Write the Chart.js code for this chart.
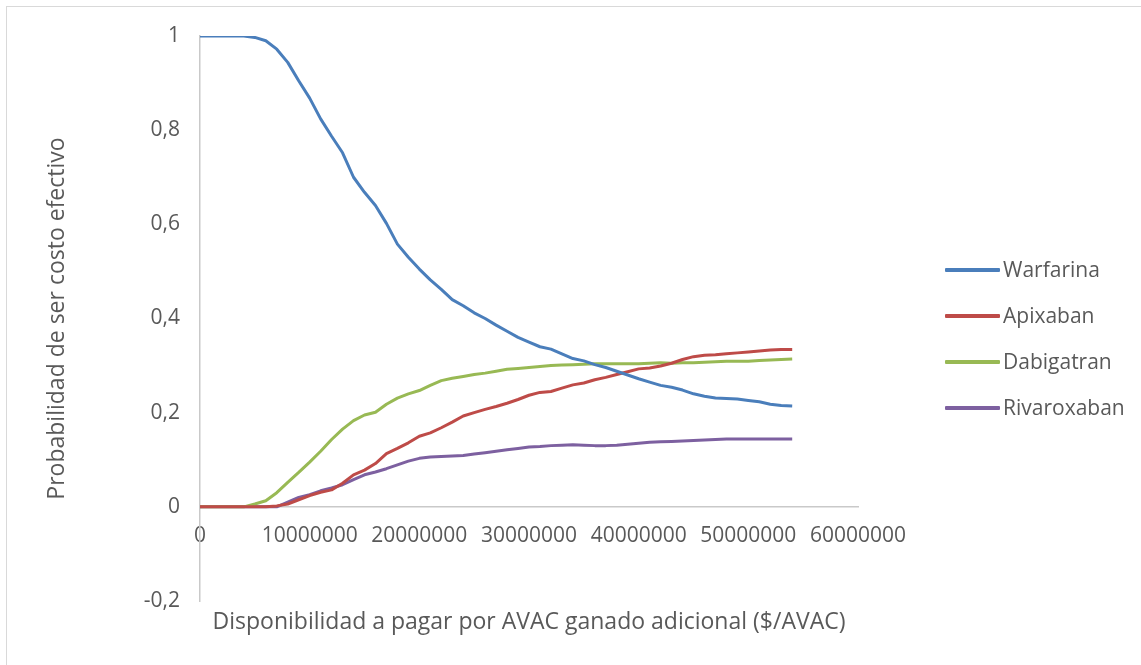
<!DOCTYPE html>
<html>
<head>
<meta charset="utf-8">
<script src="https://cdn.jsdelivr.net/npm/chart.js@4"></script>
<style>
  body { margin: 0; background: #fff; }
  #wrap { position: relative; width: 1141px; height: 665px; overflow: hidden; font-family: 'Open Sans', sans-serif; }
  #frame { position: absolute; left: 6px; top: 6px; right: -4px; bottom: -4px; border: 1px solid #d9d9d9; }
  #legend { position: absolute; left: 945px; top: 258px; }
  .item { position: relative; height: 46px; }
  .item .ln { position: absolute; left: 0; top: 10px; width: 55px; height: 4px; border-radius: 1px; }
  .item .tx { position: absolute; left: 58px; top: -3px; font-size: 21px; color: #595959; white-space: nowrap; }
</style>
</head>
<body>
<div id="wrap">
  <div id="frame"></div>
  <canvas id="c" width="1141" height="665"></canvas>
  <div id="legend"></div>
</div>
<script>
// disponibilidad a pagar ($/AVAC), paso de 1.000.000
const wtp = []
for (let i = 0; i <= 54; i++) wtp.push(i * 1000000)

const warfarina = [1, 1, 1, 1, 1, 0.997, 0.99, 0.972, 0.944, 0.905, 0.868, 0.824, 0.787, 0.752, 0.7,
  0.668, 0.64, 0.602, 0.558, 0.53, 0.505, 0.482, 0.462, 0.44, 0.427, 0.412, 0.4, 0.386, 0.373, 0.36,
  0.35, 0.34, 0.335, 0.325, 0.315, 0.31, 0.302, 0.296, 0.288, 0.28, 0.272, 0.265, 0.258, 0.254, 0.248,
  0.24, 0.235, 0.231, 0.23, 0.229, 0.226, 0.223, 0.218, 0.215, 0.214]
const apixaban = [0, 0, 0, 0, 0, 0, 0, 0.002, 0.006, 0.015, 0.024, 0.031, 0.036, 0.05, 0.068,
  0.078, 0.092, 0.113, 0.124, 0.136, 0.15, 0.157, 0.168, 0.18, 0.193, 0.2, 0.207, 0.213, 0.22, 0.228,
  0.237, 0.243, 0.245, 0.252, 0.259, 0.263, 0.27, 0.275, 0.281, 0.287, 0.293, 0.295, 0.299, 0.305, 0.313,
  0.319, 0.322, 0.323, 0.325, 0.327, 0.329, 0.331, 0.333, 0.334, 0.334]
const dabigatran = [0, 0, 0, 0, 0, 0.006, 0.013, 0.03, 0.052, 0.073, 0.095, 0.118, 0.143, 0.165, 0.183,
  0.195, 0.201, 0.218, 0.231, 0.24, 0.247, 0.258, 0.268, 0.273, 0.277, 0.281, 0.284, 0.288, 0.292, 0.294,
  0.296, 0.298, 0.3, 0.301, 0.302, 0.303, 0.304, 0.304, 0.304, 0.304, 0.304, 0.305, 0.306, 0.305, 0.306,
  0.306, 0.307, 0.308, 0.309, 0.309, 0.309, 0.311, 0.312, 0.313, 0.314]
const rivaroxaban = [0, 0, 0, 0, 0, 0, 0, 0, 0.01, 0.02, 0.026, 0.034, 0.04, 0.047, 0.058,
  0.068, 0.074, 0.081, 0.089, 0.097, 0.103, 0.106, 0.107, 0.108, 0.109, 0.112, 0.115, 0.118, 0.121, 0.124,
  0.127, 0.128, 0.13, 0.131, 0.132, 0.131, 0.13, 0.13, 0.131, 0.133, 0.135, 0.137, 0.138, 0.139, 0.14,
  0.141, 0.142, 0.143, 0.144, 0.144, 0.144, 0.144, 0.144, 0.144, 0.144]

const names = ['Warfarina', 'Apixaban', 'Dabigatran', 'Rivaroxaban']
const colors = ['#4a7ebb', '#be4b48', '#98b954', '#7d60a0']
const series = [warfarina, apixaban, dabigatran, rivaroxaban]

const textColor = '#595959'
const axisColor = '#c9c9c9'
const tickFont = { family: "'Open Sans', sans-serif", size: 21 }
const titleFont = { family: "'Open Sans', sans-serif", size: 23 }

const datasets = series.map((s, k) => ({
  label: names[k],
  data: wtp.map((x, i) => ({ x, y: s[i] })),
  borderColor: colors[k],
  backgroundColor: colors[k],
  borderWidth: 3,
  pointRadius: 0,
  tension: 0,
  borderJoinStyle: 'round',
}))

const chart = new Chart(document.getElementById('c'), {
  type: 'line',
  data: { datasets },
  options: {
    responsive: false,
    animation: false,
    layout: { padding: { left: 0, top: 36, right: 283, bottom: 0 } },
    plugins: { legend: { display: false }, tooltip: { enabled: false } },
    scales: {
      x: {
        type: 'linear',
        position: { y: 0 },
        min: 0,
        max: 60000000,
        grid: { display: false, drawTicks: false },
        border: { display: true, color: axisColor, width: 1.5 },
        ticks: {
          stepSize: 10000000,
          color: textColor,
          font: tickFont,
          padding: 17,
          maxRotation: 0,
          autoSkip: false,
          callback: (v) => String(v),
        },
      },
      x2: {
        type: 'linear',
        position: 'bottom',
        grid: { display: false, drawTicks: false },
        border: { display: false },
        ticks: { display: false },
        title: {
          display: true,
          text: 'Disponibilidad a pagar por AVAC ganado adicional ($/AVAC)',
          color: textColor,
          font: titleFont,
          padding: { top: 0, bottom: 29 },
        },
        afterFit: (scale) => { scale.height = 64 },
      },
      y: {
        min: -0.2,
        max: 1,
        grid: { display: false, drawTicks: false },
        border: { display: true, color: axisColor, width: 1.5 },
        ticks: {
          stepSize: 0.2,
          color: textColor,
          font: tickFont,
          padding: 20,
          callback: (v) => {
            const r = Math.round(v * 10) / 10
            return r === 0 ? '0' : String(r).replace('.', ',')
          },
        },
        title: {
          display: true,
          text: 'Probabilidad de ser costo efectivo',
          color: textColor,
          font: titleFont,
          padding: { top: 44, bottom: 0 },
        },
        afterFit: (scale) => { scale.width = 200 },
      },
    },
  },
})

// leyenda en HTML, a partir de los datasets
const legend = document.getElementById('legend')
chart.data.datasets.forEach((ds) => {
  const item = document.createElement('div')
  item.className = 'item'
  const ln = document.createElement('div')
  ln.className = 'ln'
  ln.style.background = ds.borderColor
  const tx = document.createElement('div')
  tx.className = 'tx'
  tx.textContent = ds.label
  item.appendChild(ln)
  item.appendChild(tx)
  legend.appendChild(item)
})
</script>
</body>
</html>
